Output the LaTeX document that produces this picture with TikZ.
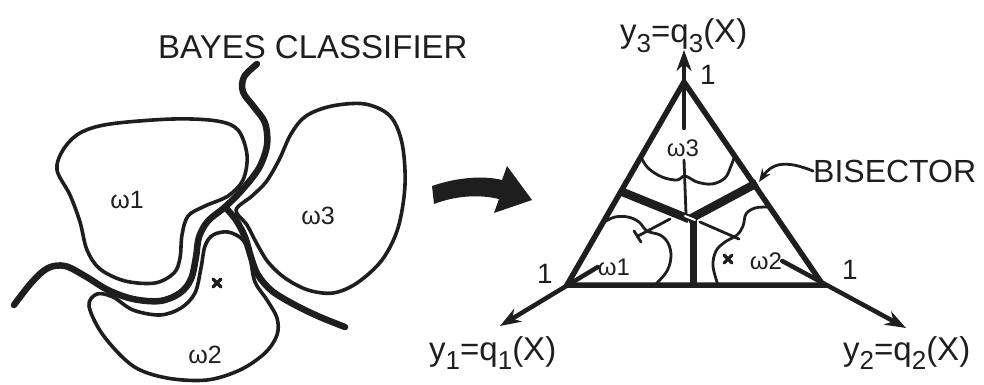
\documentclass[tikz,border=0pt]{standalone}
\usepackage{fontspec}
\setmainfont{Liberation Sans}
\usetikzlibrary{arrows.meta}
\definecolor{ink}{RGB}{30,30,30}
\newcommand{\lowix}[1]{\raisebox{-0.3em}{\fontsize{26}{26}\selectfont #1}}
\begin{document}
\begin{tikzpicture}[x=1pt,y=-1pt, line join=round, line cap=round,
  region/.style={draw=ink, line width=3.6pt},
  bayes/.style={draw=ink, line width=6.5pt},
  tri/.style={draw=ink, line width=5.5pt, line join=miter},
  bis/.style={draw=ink, line width=8.5pt, line cap=butt},
  thinc/.style={draw=ink, line width=2.8pt},
  axis/.style={draw=ink, line width=4.5pt, -{Stealth[length=21pt,width=15pt]}},
  lbl/.style={inner sep=0pt, text=ink},
  bigtxt/.style={font=\fontsize{33}{36}\selectfont},
  onetxt/.style={font=\fontsize{28}{30}\selectfont},
  wl/.style={font=\fontsize{25}{26}\selectfont},
  wr/.style={font=\fontsize{24}{25}\selectfont},
]
\useasboundingbox (0,0) rectangle (984,385);

% ---------------- left figure ----------------
\node[lbl, bigtxt, anchor=base west] (bayes) at (158,59) {BAYES CLASSIFIER};

% omega1 region
\draw[region] plot[smooth cycle, tension=0.55] coordinates {
 (57,170) (63,150) (80,133) (110,124) (173,119) (217,121) (238,130) (247,155)
 (243,180) (228,196) (205,206) (188,216) (182,235) (180,258) (174,273)
 (155,283) (125,281) (100,269) (87,250) (80,222) (70,195)};
% omega3 region
\draw[region] plot[smooth cycle, tension=0.55] coordinates {
 (236,210) (252,196) (266,182) (279,160) (291,134) (306,116) (332,106)
 (365,104) (390,116) (402,143) (405,185) (398,228) (382,260) (357,283)
 (333,293) (308,290) (285,278) (268,262) (257,244) (247,225)};
% omega2 region
\draw[region] plot[smooth cycle, tension=0.55] coordinates {
 (97,294) (113,297) (133,310) (160,315) (181,308) (195,293) (201,268)
 (205,246) (213,235) (228,232) (243,240) (250,258) (255,282) (267,300)
 (277,318) (277,335) (265,353) (240,370) (207,380) (167,378) (133,366)
 (103,335) (89,306)};

% Bayes classifier boundary
\draw[bayes] plot[smooth, tension=0.55] coordinates {
 (257,64) (244,77) (243,92) (254,107) (265,123) (267,145) (259,168)
 (242,190) (225,207) (208,221) (199,237) (196,257) (191,279) (180,293)
 (160,301) (133,299) (108,290) (85,276) (65,266) (48,268) (32,282) (14,305)};
\draw[bayes] plot[smooth, tension=0.55] coordinates {
 (225,207) (236,220) (245,237) (251,257) (258,275) (272,291) (295,305)
 (320,317) (345,327)};

% x mark
\draw[ink, line width=3.2pt] (213,279) -- (221,287) (213,287) -- (221,279);

\node[lbl, wl] (w1) at (127,200) {ω1};
\node[lbl, wl] (w3) at (318,216) {ω3};
\node[lbl, wl] (w2) at (205,355) {ω2};

% ---------------- big arrow ----------------
\fill[ink] (432,186) .. controls (455,178) and (482,175) .. (502,180)
  -- (507,166) -- (532,200) -- (494,213) -- (499,199)
  .. controls (478,194) and (455,196) .. (434,204) -- cycle;

% ---------------- right figure ----------------
\coordinate (apex) at (684,82);
\coordinate (cl) at (567,285);
\coordinate (cr) at (823,285);
\coordinate (a3s) at (684,128);
\coordinate (t3) at (684,50);
\coordinate (t1) at (500,326);
\coordinate (t2) at (906,328);

% omega regions inside triangle
\draw[thinc] plot[smooth, tension=0.6] coordinates {
 (641,157) (648,168) (662,177) (677,180) (685,176) (697,182) (712,184)
 (725,178) (731,166) (735,155)};
\draw[thinc] plot[smooth, tension=0.6] coordinates {
 (604,222) (615,217) (628,217) (639,222) (647,231) (660,235) (668,243)
 (671,256) (667,271) (655,285)};
\draw[thinc] plot[smooth, tension=0.6] coordinates {
 (768,207) (755,208) (746,214) (743,226) (737,235) (725,242) (716,251)
 (713,266) (718,285)};

% thin extensions of bisectors
\draw[thinc] (684,160) -- (686,214);
\draw[thinc] (700,222) -- (739,239);
\draw[thinc] (670,219) -- (638,236);
\draw[thinc] (634,231) -- (641,242);

% thick bisectors
\draw[bis] (620,191) -- (689,219);
\draw[bis] (757,183) -- (688,220);
\draw[bis, line width=7pt] (693,286) -- (693,219);
\draw[white, line width=2pt] (685,216) -- (695,220);

% triangle
\draw[tri] (apex) -- (cl) -- (cr) -- cycle;

% x mark
\draw[ink, line width=3.2pt] (724,255) -- (732,263) (724,263) -- (732,255);

\node[lbl, wr] (w3r) at (683,148) {ω3};
\node[lbl, wr] (w1r) at (614,267) {ω1};
\node[lbl, wr] (w2r) at (766,261) {ω2};

% axes
\draw[axis] (a3s) -- (t3);
\draw[axis] (w1r.west) -- (t1);
\draw[axis] (w2r.east) -- (t2);

\node[lbl, onetxt] (one3) at (708,75) {1};
\node[lbl, onetxt] (one1) at (545,274) {1};
\node[lbl, onetxt] (one2) at (850,270) {1};

\node[lbl, bigtxt, anchor=base west] (y3) at (620,43) {y\lowix{3}=q\lowix{3}(X)};
\node[lbl, bigtxt, anchor=base west] (y1) at (429,360) {y\lowix{1}=q\lowix{1}(X)};
\node[lbl, bigtxt, anchor=base west] (y2) at (843,360) {y\lowix{2}=q\lowix{2}(X)};

% bisector label
\node[lbl, font=\fontsize{32}{34}\selectfont, anchor=base west] (bisector) at (813,182) {BISECTOR};
\draw[ink, line width=2.8pt, -{Stealth[length=13pt,width=10pt]}]
  (bisector.west) .. controls (786,160) and (772,163) .. (759,182);
\end{tikzpicture}
\end{document}
